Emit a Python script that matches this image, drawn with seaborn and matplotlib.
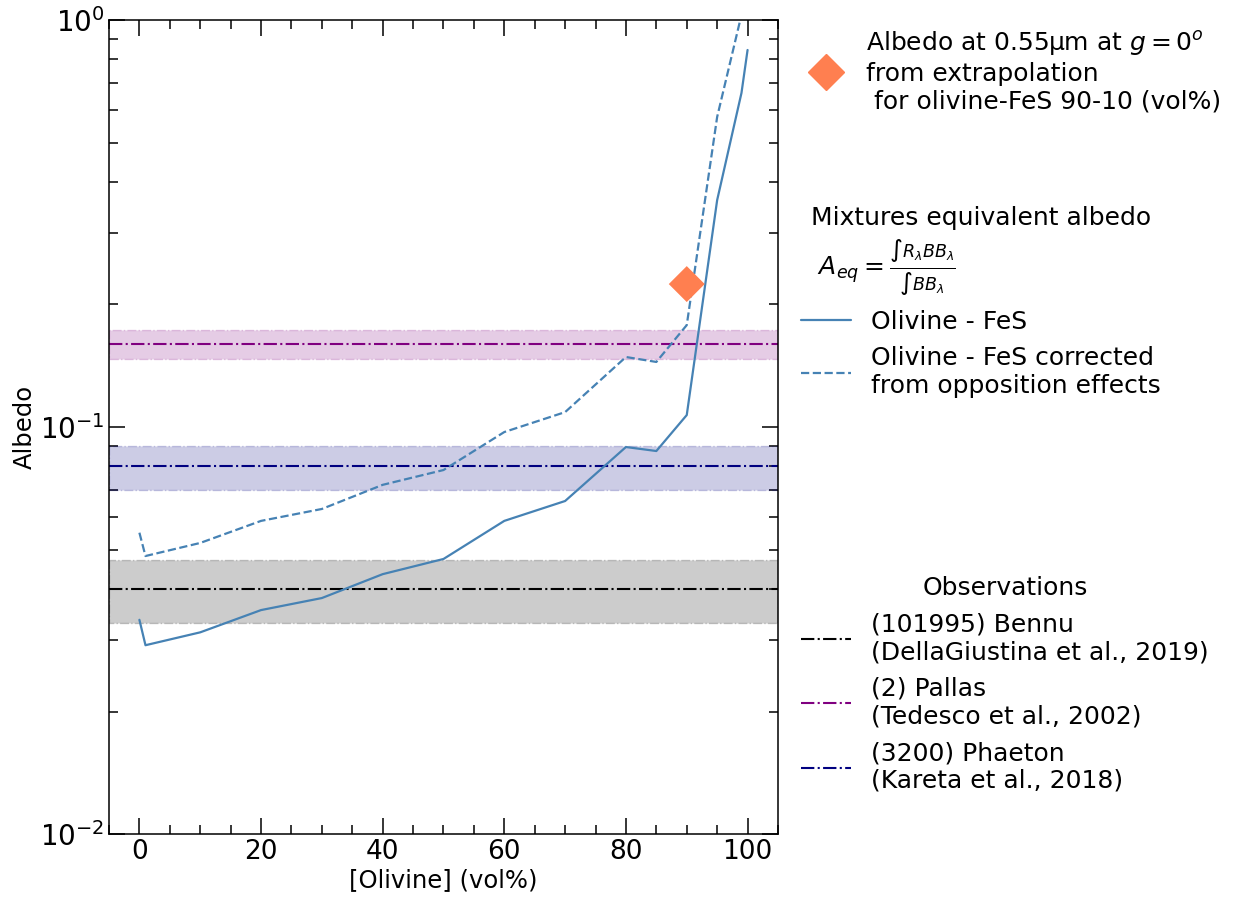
import numpy as np
import seaborn as sns
import matplotlib.pyplot as plt
from matplotlib.lines import Line2D
from matplotlib.ticker import MultipleLocator

# olivine content (vol%) of the olivine-FeS mixtures
olivine = [0, 1, 10, 20, 30, 40, 50, 60, 70, 80, 85, 90, 95, 99, 100]
albedo = [0.0336, 0.0291, 0.0313, 0.0355, 0.038, 0.0435, 0.0474, 0.0588,
          0.0658, 0.0893, 0.0873, 0.107, 0.361, 0.662, 0.844]
albedo_corr = [0.055, 0.0482, 0.0519, 0.0588, 0.0629, 0.0721, 0.0784, 0.0972,
               0.1088, 0.1486, 0.1445, 0.178, 0.578, 1.03, 1.3]

# extrapolated point for olivine-FeS 90-10
extrap_x = [90]
extrap_y = [0.2245]

# asteroid observations
obs_labels = ["(101995) Bennu\n(DellaGiustina et al., 2019)",
              "(2) Pallas\n(Tedesco et al., 2002)",
              "(3200) Phaeton\n(Kareta et al., 2018)"]
obs_albedo = [0.040, 0.160, 0.080]
obs_err = [0.007, 0.013, 0.010]
obs_colors = ["black", "purple", "navy"]


def albedo_plot():
    sns.set_theme(style="ticks")
    plt.rcParams["font.family"] = ["DejaVu Sans"]
    plt.rcParams["mathtext.fontset"] = "dejavusans"
    for key in ["text.color", "axes.labelcolor", "xtick.color", "ytick.color",
                "axes.edgecolor"]:
        plt.rcParams[key] = "black"

    fig = plt.figure(figsize=(12.4, 8.97), dpi=100)
    ax = fig.add_axes([0.0879, 0.0702, 0.5395, 0.9075])

    xspan = [-5, 105]
    for val, err, col in zip(obs_albedo, obs_err, obs_colors):
        ax.fill_between(xspan, val - err, val + err, color=col, alpha=0.2,
                        linestyle="-.", linewidth=1)
        ax.axhline(val, color=col, linestyle="-.", linewidth=1.5)

    sns.lineplot(x=olivine, y=albedo, ax=ax, color="steelblue", linewidth=1.6)
    sns.lineplot(x=olivine, y=albedo_corr, ax=ax, color="steelblue",
                 linewidth=1.6, linestyle="--")
    sns.scatterplot(x=extrap_x, y=extrap_y, ax=ax, marker="D", s=335,
                    color="coral", edgecolor="none", zorder=5)

    ax.set_yscale("log")
    ax.set_xlim(*xspan)
    ax.set_ylim(1e-2, 1)
    ax.xaxis.set_major_locator(MultipleLocator(20))
    ax.xaxis.set_minor_locator(MultipleLocator(5))
    ax.tick_params(which="both", direction="in", top=True, right=True,
                   width=1.1, color="black")
    ax.tick_params(which="major", length=11.5)
    ax.tick_params(which="minor", length=6.5)
    ax.tick_params(axis="x", labelsize=19)
    ax.tick_params(axis="y", labelsize=20)
    for sp in ax.spines.values():
        sp.set_linewidth(1.1)
    ax.set_xlabel("[Olivine] (vol%)", fontsize=17.5, labelpad=2)
    ax.set_ylabel("Albedo", fontsize=17.5, labelpad=2)

    h_extrap = [Line2D([], [], marker="D", markersize=18.3, color="coral",
                       linestyle="none")]
    leg1 = ax.legend(h_extrap,
                     ["Albedo at 0.55\u00b5m at $g = 0^o$\nfrom extrapolation\n"
                      " for olivine-FeS 90-10 (vol%)"],
                     loc="upper left", bbox_to_anchor=(0.628, 0.993),
                     bbox_transform=fig.transFigure, frameon=False,
                     fontsize=18, handletextpad=0.6)
    ax.add_artist(leg1)

    h_mix = [Line2D([], [], color="steelblue", linewidth=1.6),
             Line2D([], [], color="steelblue", linewidth=1.6, linestyle="--")]
    leg2 = ax.legend(h_mix, ["Olivine - FeS",
                             "Olivine - FeS corrected\nfrom opposition effects"],
                     title="Mixtures equivalent albedo\n"
                           r" $A_{eq} = \frac{\int R_\lambda BB_\lambda}{\int BB_\lambda}$",
                     loc="upper left", bbox_to_anchor=(0.628, 0.795),
                     bbox_transform=fig.transFigure, frameon=False,
                     fontsize=18, title_fontsize=18)
    ax.add_artist(leg2)

    h_obs = [Line2D([], [], color=c, linestyle="-.", linewidth=1.5)
             for c in obs_colors]
    ax.legend(h_obs, obs_labels, title="Observations",
              loc="upper left", bbox_to_anchor=(0.628, 0.383),
              bbox_transform=fig.transFigure, frameon=False,
              fontsize=18, title_fontsize=18)

    fig.savefig("out.png", dpi=100)


if __name__ == "__main__":
    albedo_plot()
